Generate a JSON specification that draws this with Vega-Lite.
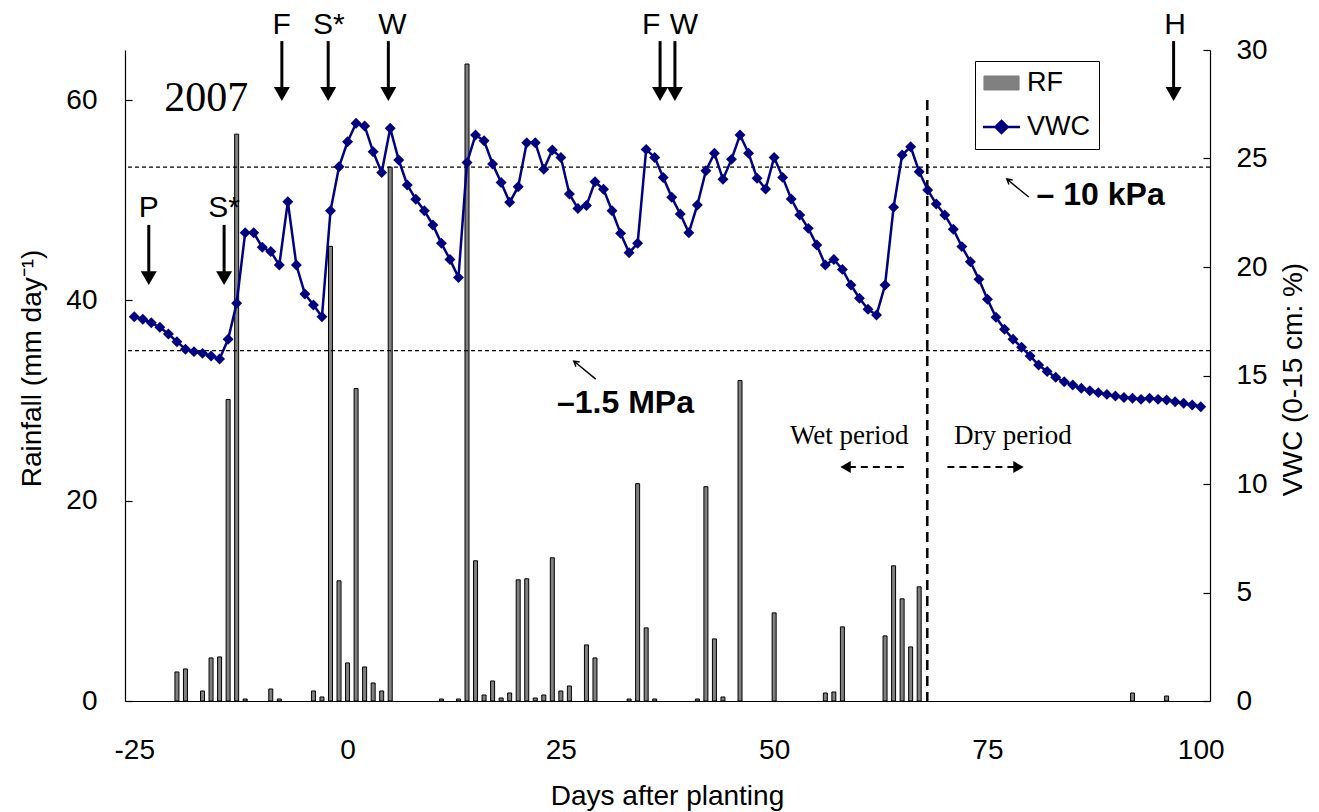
{
  "$schema": "https://vega.github.io/schema/vega-lite/v6.json",
  "width": 1085,
  "height": 651,
  "autosize": {"type": "none"},
  "padding": {"left": 125, "top": 50, "right": 109, "bottom": 111},
  "background": "white",
  "config": {
    "view": {"stroke": null},
    "font": "Liberation Sans",
    "axis": {"grid": false, "domainColor": "black", "tickColor": "black", "labelColor": "black", "titleColor": "black", "labelFont": "Liberation Sans", "titleFont": "Liberation Sans", "labelFontSize": 28, "titleFontSize": 28, "titleFontWeight": "normal", "domainWidth": 1.2, "tickWidth": 1.2}
  },
  "layer": [
    {
      "data": {"values": [
        {"day": -20, "rain": 2.9}, {"day": -19, "rain": 3.2}, {"day": -17, "rain": 1.0}, {"day": -16, "rain": 4.3},
        {"day": -15, "rain": 4.4}, {"day": -14, "rain": 30.1}, {"day": -13, "rain": 56.6}, {"day": -12, "rain": 0.2},
        {"day": -9, "rain": 1.2}, {"day": -8, "rain": 0.2}, {"day": -4, "rain": 1.0}, {"day": -3, "rain": 0.4},
        {"day": -2, "rain": 45.4}, {"day": -1, "rain": 12.0}, {"day": 0, "rain": 3.8}, {"day": 1, "rain": 31.2},
        {"day": 2, "rain": 3.4}, {"day": 3, "rain": 1.8}, {"day": 4, "rain": 1.0}, {"day": 5, "rain": 53.3},
        {"day": 11, "rain": 0.2}, {"day": 13, "rain": 0.2}, {"day": 14, "rain": 63.6}, {"day": 15, "rain": 14.0},
        {"day": 16, "rain": 0.6}, {"day": 17, "rain": 2.0}, {"day": 18, "rain": 0.3}, {"day": 19, "rain": 0.8},
        {"day": 20, "rain": 12.1}, {"day": 21, "rain": 12.2}, {"day": 22, "rain": 0.3}, {"day": 23, "rain": 0.6},
        {"day": 24, "rain": 14.3}, {"day": 25, "rain": 1.0}, {"day": 26, "rain": 1.5}, {"day": 28, "rain": 5.6},
        {"day": 29, "rain": 4.3}, {"day": 33, "rain": 0.2}, {"day": 34, "rain": 21.7}, {"day": 35, "rain": 7.3},
        {"day": 36, "rain": 0.2}, {"day": 41, "rain": 0.2}, {"day": 42, "rain": 21.4}, {"day": 43, "rain": 6.2},
        {"day": 44, "rain": 0.4}, {"day": 46, "rain": 32.0}, {"day": 50, "rain": 8.8}, {"day": 56, "rain": 0.8},
        {"day": 57, "rain": 0.9}, {"day": 58, "rain": 7.4}, {"day": 63, "rain": 6.5}, {"day": 64, "rain": 13.5},
        {"day": 65, "rain": 10.2}, {"day": 66, "rain": 5.4}, {"day": 67, "rain": 11.4}, {"day": 92, "rain": 0.8},
        {"day": 96, "rain": 0.5}
      ]},
      "mark": {"type": "bar", "stroke": "black", "strokeWidth": 1, "size": 4},
      "encoding": {
        "x": {"field": "day", "type": "quantitative", "title": "Days after planting", "scale": {"domain": [-25.5, 100.5], "nice": false, "zero": false},
          "axis": {"values": [-25, 0, 25, 50, 75, 100], "labelExpr": "'' + datum.value", "title": "Days after planting", "ticks": false, "tickSize": 0, "labelPadding": 35, "labelFlush": false, "titleBaseline": "alphabetic", "titleY": 103, "titleX": 542}},
        "y": {"field": "rain", "type": "quantitative", "scale": {"domain": [0, 65], "nice": false},
          "axis": {"orient": "left", "values": [0, 20, 40, 60], "tickSize": -7, "labelPadding": 35, "title": "Rainfall (mm day⁻¹)", "titleAngle": -90, "titleX": -93, "titleY": 318, "titleAlign": "center", "titleBaseline": "middle"}},
        "color": {"datum": "RF", "type": "nominal", "scale": {"domain": ["RF", "VWC"], "range": ["#808080", "#000080"]},
          "legend": {"orient": "none", "legendX": 850, "legendY": 11, "title": null, "strokeColor": "black", "padding": 8.5, "rowPadding": 16,
            "symbolSize": 1369, "symbolOffset": 4.5, "labelOffset": 12, "labelFontSize": 27, "labelFont": "Liberation Sans", "labelColor": "black",
            "labelExpr": "datum.label + '\u2009'",
            "encode": {"symbols": {"update": {
              "shape": {"signal": "datum.value === 'RF' ? 'M-0.95,-0.38L0.95,-0.38L0.95,0.38L-0.95,0.38Z' : 'M-1,0L1,0M0,-0.33L0.33,0L0,0.33L-0.33,0Z'"},
              "fill": {"signal": "datum.value === 'RF' ? '#808080' : '#000080'"},
              "stroke": {"signal": "datum.value === 'RF' ? 'black' : '#000080'"},
              "strokeWidth": {"signal": "datum.value === 'RF' ? 1 : 2.5"},
              "opacity": {"value": 1}
            }}}}}
      }
    },
    {
      "layer": [
        {
          "data": {"values": [{"vwc": 24.6, "threshold": "-10 kPa"}, {"vwc": 16.15, "threshold": "-1.5 MPa"}]},
          "mark": {"type": "rule", "color": "black", "strokeWidth": 1.2, "strokeDash": [4, 3]},
          "encoding": {"y": {"field": "vwc", "type": "quantitative", "title": "VWC (0-15 cm: %)", "scale": {"domain": [0, 30], "nice": false}}}
        },
        {
          "data": {"values": [{"day": 67.95}]},
          "mark": {"type": "rule", "color": "black", "strokeWidth": 2.5, "strokeDash": [10, 6]},
          "encoding": {
            "x": {"field": "day", "type": "quantitative", "title": "Days after planting"},
            "y": {"datum": 27.7, "type": "quantitative", "title": "VWC (0-15 cm: %)"},
            "y2": {"datum": -0.2}
          }
        },
        {
          "data": {"values": [
            {"day": -25, "vwc": 17.71}, {"day": -24, "vwc": 17.59}, {"day": -23, "vwc": 17.43}, {"day": -22, "vwc": 17.22}, {"day": -21, "vwc": 16.91},
            {"day": -20, "vwc": 16.56}, {"day": -19, "vwc": 16.21}, {"day": -18, "vwc": 16.10}, {"day": -17, "vwc": 16.02}, {"day": -16, "vwc": 15.90},
            {"day": -15, "vwc": 15.76}, {"day": -14, "vwc": 16.67}, {"day": -13, "vwc": 18.33}, {"day": -12, "vwc": 21.58}, {"day": -11, "vwc": 21.58},
            {"day": -10, "vwc": 20.91}, {"day": -9, "vwc": 20.71}, {"day": -8, "vwc": 20.09}, {"day": -7, "vwc": 23.01}, {"day": -6, "vwc": 20.09},
            {"day": -5, "vwc": 18.76}, {"day": -4, "vwc": 18.25}, {"day": -3, "vwc": 17.71}, {"day": -2, "vwc": 22.59}, {"day": -1, "vwc": 24.62},
            {"day": 0, "vwc": 25.77}, {"day": 1, "vwc": 26.62}, {"day": 2, "vwc": 26.50}, {"day": 3, "vwc": 25.31}, {"day": 4, "vwc": 24.35},
            {"day": 5, "vwc": 26.39}, {"day": 6, "vwc": 24.93}, {"day": 7, "vwc": 23.78}, {"day": 8, "vwc": 23.12}, {"day": 9, "vwc": 22.59},
            {"day": 10, "vwc": 21.94}, {"day": 11, "vwc": 21.09}, {"day": 12, "vwc": 20.35}, {"day": 13, "vwc": 19.52}, {"day": 14, "vwc": 24.81},
            {"day": 15, "vwc": 26.08}, {"day": 16, "vwc": 25.82}, {"day": 17, "vwc": 24.75}, {"day": 18, "vwc": 23.89}, {"day": 19, "vwc": 22.98},
            {"day": 20, "vwc": 23.70}, {"day": 21, "vwc": 25.73}, {"day": 22, "vwc": 25.73}, {"day": 23, "vwc": 24.50}, {"day": 24, "vwc": 25.39},
            {"day": 25, "vwc": 25.05}, {"day": 26, "vwc": 23.36}, {"day": 27, "vwc": 22.70}, {"day": 28, "vwc": 22.83}, {"day": 29, "vwc": 23.93},
            {"day": 30, "vwc": 23.58}, {"day": 31, "vwc": 22.59}, {"day": 32, "vwc": 21.55}, {"day": 33, "vwc": 20.66}, {"day": 34, "vwc": 21.09},
            {"day": 35, "vwc": 25.42}, {"day": 36, "vwc": 25.05}, {"day": 37, "vwc": 24.12}, {"day": 38, "vwc": 23.21}, {"day": 39, "vwc": 22.44},
            {"day": 40, "vwc": 21.58}, {"day": 41, "vwc": 22.86}, {"day": 42, "vwc": 24.44}, {"day": 43, "vwc": 25.24}, {"day": 44, "vwc": 24.04},
            {"day": 45, "vwc": 24.96}, {"day": 46, "vwc": 26.08}, {"day": 47, "vwc": 25.24}, {"day": 48, "vwc": 24.09}, {"day": 49, "vwc": 23.59},
            {"day": 50, "vwc": 25.05}, {"day": 51, "vwc": 24.13}, {"day": 52, "vwc": 23.13}, {"day": 53, "vwc": 22.40}, {"day": 54, "vwc": 21.78},
            {"day": 55, "vwc": 21.01}, {"day": 56, "vwc": 20.09}, {"day": 57, "vwc": 20.35}, {"day": 58, "vwc": 19.89}, {"day": 59, "vwc": 19.17},
            {"day": 60, "vwc": 18.56}, {"day": 61, "vwc": 18.05}, {"day": 62, "vwc": 17.79}, {"day": 63, "vwc": 19.17}, {"day": 64, "vwc": 22.75},
            {"day": 65, "vwc": 25.16}, {"day": 66, "vwc": 25.54}, {"day": 67, "vwc": 24.39}, {"day": 68, "vwc": 23.55}, {"day": 69, "vwc": 22.90},
            {"day": 70, "vwc": 22.40}, {"day": 71, "vwc": 21.74}, {"day": 72, "vwc": 20.94}, {"day": 73, "vwc": 20.24}, {"day": 74, "vwc": 19.43},
            {"day": 75, "vwc": 18.51}, {"day": 76, "vwc": 17.68}, {"day": 77, "vwc": 17.13}, {"day": 78, "vwc": 16.67}, {"day": 79, "vwc": 16.30},
            {"day": 80, "vwc": 15.90}, {"day": 81, "vwc": 15.48}, {"day": 82, "vwc": 15.18}, {"day": 83, "vwc": 14.92}, {"day": 84, "vwc": 14.71},
            {"day": 85, "vwc": 14.56}, {"day": 86, "vwc": 14.41}, {"day": 87, "vwc": 14.30}, {"day": 88, "vwc": 14.21}, {"day": 89, "vwc": 14.13},
            {"day": 90, "vwc": 14.06}, {"day": 91, "vwc": 13.99}, {"day": 92, "vwc": 13.95}, {"day": 93, "vwc": 13.90}, {"day": 94, "vwc": 13.95},
            {"day": 95, "vwc": 13.90}, {"day": 96, "vwc": 13.87}, {"day": 97, "vwc": 13.79}, {"day": 98, "vwc": 13.72}, {"day": 99, "vwc": 13.64},
            {"day": 100, "vwc": 13.56}
          ]},
          "mark": {"type": "line", "strokeWidth": 2.5, "point": {"shape": "diamond", "size": 120, "filled": true, "opacity": 1}},
          "encoding": {
            "x": {"field": "day", "type": "quantitative", "title": "Days after planting", "scale": {"domain": [-25.5, 100.5], "nice": false, "zero": false}},
            "y": {"field": "vwc", "type": "quantitative", "title": "VWC (0-15 cm: %)", "scale": {"domain": [0, 30], "nice": false},
              "axis": {"orient": "right", "values": [0, 5, 10, 15, 20, 25, 30], "tickSize": -7, "labelPadding": 33, "title": "VWC (0-15 cm: %)", "titleAngle": 270, "titleX": 83, "titleY": 329, "titleAlign": "center", "titleBaseline": "middle"}},
            "color": {"datum": "VWC", "type": "nominal", "scale": {"domain": ["RF", "VWC"], "range": ["#808080", "#000080"]},
              "legend": {"orient": "none", "legendX": 850, "legendY": 11, "title": null, "strokeColor": "black", "padding": 8.5, "rowPadding": 16,
                "symbolSize": 1369, "symbolOffset": 4.5, "labelOffset": 12, "labelFontSize": 27, "labelFont": "Liberation Sans", "labelColor": "black",
                "labelExpr": "datum.label + '\u2009'",
                "encode": {"symbols": {"update": {
                  "shape": {"signal": "datum.value === 'RF' ? 'M-0.95,-0.38L0.95,-0.38L0.95,0.38L-0.95,0.38Z' : 'M-1,0L1,0M0,-0.33L0.33,0L0,0.33L-0.33,0Z'"},
                  "fill": {"signal": "datum.value === 'RF' ? '#808080' : '#000080'"},
                  "stroke": {"signal": "datum.value === 'RF' ? 'black' : '#000080'"},
                  "strokeWidth": {"signal": "datum.value === 'RF' ? 1 : 2.5"},
                  "opacity": {"value": 1}
                }}}}}
          }
        },
        {
          "data": {"values": [{"day": -7.7, "event": "F"}, {"day": -2.27, "event": "S*"}, {"day": 4.78, "event": "W"}, {"day": 36.63, "event": "F"}, {"day": 38.37, "event": "W"}, {"day": 96.82, "event": "H"}]},
          "layer": [
            {"mark": {"type": "rule", "color": "black", "strokeWidth": 3},
             "encoding": {"x": {"field": "day", "type": "quantitative", "title": "Days after planting"}, "y": {"datum": 30.41, "type": "quantitative", "title": "VWC (0-15 cm: %)"}, "y2": {"datum": 27.97}}},
            {"mark": {"type": "point", "shape": "triangle-down", "size": 256, "filled": true, "color": "black", "opacity": 1},
             "encoding": {"x": {"field": "day", "type": "quantitative", "title": "Days after planting"}, "y": {"datum": 27.97, "type": "quantitative", "title": "VWC (0-15 cm: %)"}}}
          ]
        },
        {
          "data": {"values": [{"day": -7.73, "event": "F"}, {"day": -2.2, "event": "S*"}, {"day": 5.27, "event": "W"}, {"day": 35.58, "event": "F"}, {"day": 39.42, "event": "W"}, {"day": 97.0, "event": "H"}]},
          "mark": {"type": "text", "font": "Liberation Sans", "fontSize": 30, "color": "black", "baseline": "middle", "align": "center"},
          "encoding": {"x": {"field": "day", "type": "quantitative", "title": "Days after planting"}, "y": {"datum": 31.15, "type": "quantitative", "title": "VWC (0-15 cm: %)"}, "text": {"field": "event"}}
        },
        {
          "data": {"values": [{"day": -23.3, "event": "P"}, {"day": -14.47, "event": "S*"}]},
          "layer": [
            {"mark": {"type": "rule", "color": "black", "strokeWidth": 3},
             "encoding": {"x": {"field": "day", "type": "quantitative", "title": "Days after planting"}, "y": {"datum": 21.94, "type": "quantitative", "title": "VWC (0-15 cm: %)"}, "y2": {"datum": 19.49}}},
            {"mark": {"type": "point", "shape": "triangle-down", "size": 256, "filled": true, "color": "black", "opacity": 1},
             "encoding": {"x": {"field": "day", "type": "quantitative", "title": "Days after planting"}, "y": {"datum": 19.49, "type": "quantitative", "title": "VWC (0-15 cm: %)"}}},
            {"mark": {"type": "text", "font": "Liberation Sans", "fontSize": 30, "color": "black", "baseline": "middle", "align": "center"},
             "encoding": {"x": {"field": "day", "type": "quantitative", "title": "Days after planting"}, "y": {"datum": 22.72, "type": "quantitative", "title": "VWC (0-15 cm: %)"}, "text": {"field": "event"}}}
          ]
        },
        {
          "data": {"values": [{"day": -16.56, "vwc": 27.81, "label": "2007"}]},
          "mark": {"type": "text", "font": "Liberation Serif", "fontSize": 42, "color": "black", "baseline": "middle", "align": "center"},
          "encoding": {"x": {"field": "day", "type": "quantitative", "title": "Days after planting"}, "y": {"field": "vwc", "type": "quantitative", "title": "VWC (0-15 cm: %)"}, "text": {"field": "label"}}
        },
        {
          "data": {"values": [{"day": 80.76, "vwc": 23.32, "label": "– 10 kPa"}, {"day": 24.55, "vwc": 13.73, "label": "–1.5 MPa"}]},
          "mark": {"type": "text", "font": "Liberation Sans", "fontSize": 32, "fontWeight": "bold", "color": "black", "baseline": "middle", "align": "left"},
          "encoding": {"x": {"field": "day", "type": "quantitative", "title": "Days after planting"}, "y": {"field": "vwc", "type": "quantitative", "title": "VWC (0-15 cm: %)"}, "text": {"field": "label"}}
        },
        {
          "data": {"values": [{"day": 78.55, "vwc": 23.64}, {"day": 27.8, "vwc": 15.25}]},
          "mark": {"type": "point", "shape": "M1,0.82L-1,-0.82M-0.46,-0.73L-1,-0.82L-0.8,-0.31", "size": 484, "filled": false, "color": "black", "strokeWidth": 1.4, "opacity": 1},
          "encoding": {"x": {"field": "day", "type": "quantitative", "title": "Days after planting"}, "y": {"field": "vwc", "type": "quantitative", "title": "VWC (0-15 cm: %)"}}
        },
        {
          "data": {"values": [{"day": 58.81, "vwc": 12.2, "label": "Wet period"}, {"day": 77.97, "vwc": 12.2, "label": "Dry period"}]},
          "mark": {"type": "text", "font": "Liberation Serif", "fontSize": 27, "color": "black", "baseline": "middle", "align": "center"},
          "encoding": {"x": {"field": "day", "type": "quantitative", "title": "Days after planting"}, "y": {"field": "vwc", "type": "quantitative", "title": "VWC (0-15 cm: %)"}, "text": {"field": "label"}}
        },
        {
          "data": {"values": [{"day": 65.2, "day2": 58.4}, {"day": 70.31, "day2": 78.6}]},
          "mark": {"type": "rule", "color": "black", "strokeWidth": 2, "strokeDash": [7, 5]},
          "encoding": {"x": {"field": "day", "type": "quantitative", "title": "Days after planting"}, "x2": {"field": "day2"}, "y": {"datum": 10.78, "type": "quantitative", "title": "VWC (0-15 cm: %)"}}
        },
        {
          "data": {"values": [{"day": 58.37}]},
          "mark": {"type": "point", "shape": "triangle-left", "size": 144, "filled": true, "color": "black", "opacity": 1},
          "encoding": {"x": {"field": "day", "type": "quantitative", "title": "Days after planting"}, "y": {"datum": 10.78, "type": "quantitative", "title": "VWC (0-15 cm: %)"}}
        },
        {
          "data": {"values": [{"day": 78.64}]},
          "mark": {"type": "point", "shape": "triangle-right", "size": 144, "filled": true, "color": "black", "opacity": 1},
          "encoding": {"x": {"field": "day", "type": "quantitative", "title": "Days after planting"}, "y": {"datum": 10.78, "type": "quantitative", "title": "VWC (0-15 cm: %)"}}
        }
      ]
    }
  ],
  "resolve": {"scale": {"y": "independent"}, "axis": {"y": "independent"}}
}
